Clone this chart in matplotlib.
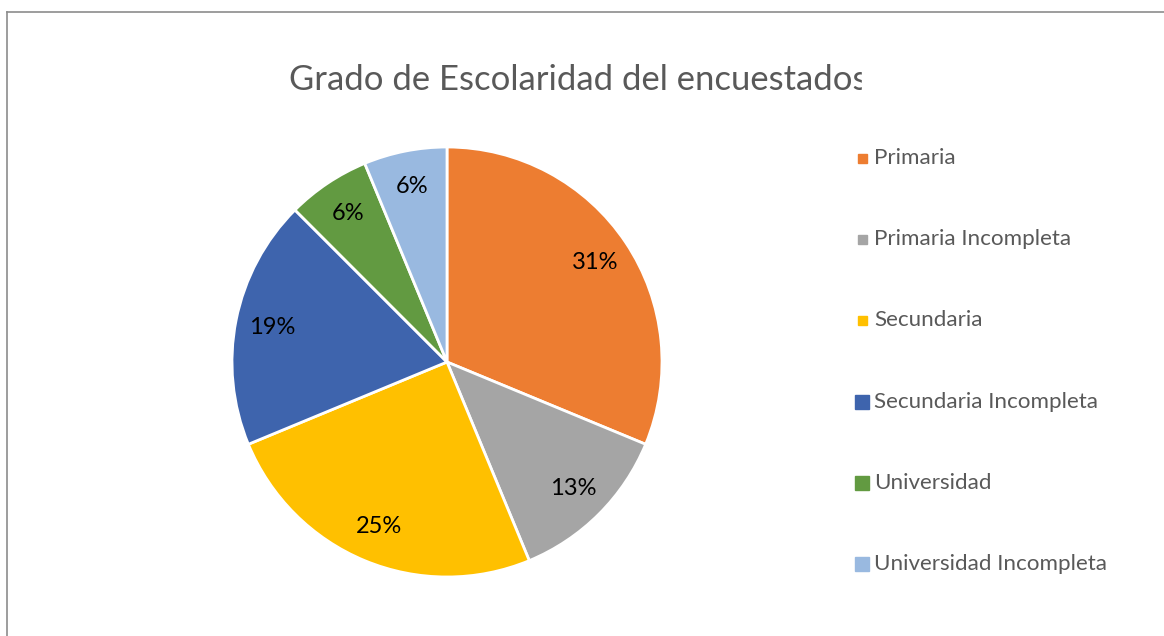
import matplotlib.pyplot as plt
from matplotlib.lines import Line2D
from matplotlib.patches import Rectangle

plt.rcParams['font.family'] = ['Lato', 'DejaVu Sans']

categories = ["Primaria", "Primaria Incompleta", "Secundaria",
              "Secundaria Incompleta", "Universidad", "Universidad Incompleta"]
counts = [5, 2, 4, 3, 1, 1]
colors = ["#ED7D31", "#A5A5A5", "#FFC000", "#3E64AD", "#629A41", "#99B9E0"]
marker_px = [9, 9, 9, 14, 14, 14]

title = "Grado de Escolaridad del encuestados"

W, H = 1164, 636
fig = plt.figure(figsize=(W / 100, H / 100), dpi=100)

# pie area: center (447, 362), radius 215 px
cx, cy, r = 447, 362, 215
ax = fig.add_axes([(cx - r) / W, (H - cy - r) / H, 2 * r / W, 2 * r / H])


def pct(p):
    # Excel style rounding (12.5 -> 13)
    return "%d%%" % int(p + 0.5)


wedges, texts, autotexts = ax.pie(
    counts,
    colors=colors,
    startangle=90,
    counterclock=False,
    autopct=pct,
    pctdistance=0.83,
    wedgeprops=dict(edgecolor="white", linewidth=2),
    textprops=dict(fontsize=17, color="black"),
)
ax.set_xlim(-1, 1)
ax.set_ylim(-1, 1)
ax.set_aspect("equal")
ax.axis("off")

fig.text(578 / W, 1 - 80 / H, title, ha="center", va="center",
         fontsize=24.9, color="#595959")
# the last letter is cut off in the original
fig.patches.append(Rectangle((862 / W, 1 - 100 / H), 60 / W, 40 / H,
                             transform=fig.transFigure, color="white", zorder=5))

# legend
for i, (lab, col) in enumerate(zip(categories, colors)):
    y = 1 - (158 + 81.2 * i) / H
    fig.add_artist(Line2D([862 / W], [y], marker="s", linestyle="",
                          markersize=marker_px[i] * 0.72, color=col,
                          transform=fig.transFigure))
    fig.text(874 / W, y, lab, ha="left", va="center",
             fontsize=16.1, color="#595959")

# chart border (top and left edges visible)
fig.add_artist(Line2D([7 / W, 1], [1 - 12 / H, 1 - 12 / H], color="#8C8C8C",
                      linewidth=1.2, transform=fig.transFigure))
fig.add_artist(Line2D([7 / W, 7 / W], [1 - 12 / H, 0], color="#8C8C8C",
                      linewidth=1.2, transform=fig.transFigure))

fig.savefig("out.png", dpi=100)
